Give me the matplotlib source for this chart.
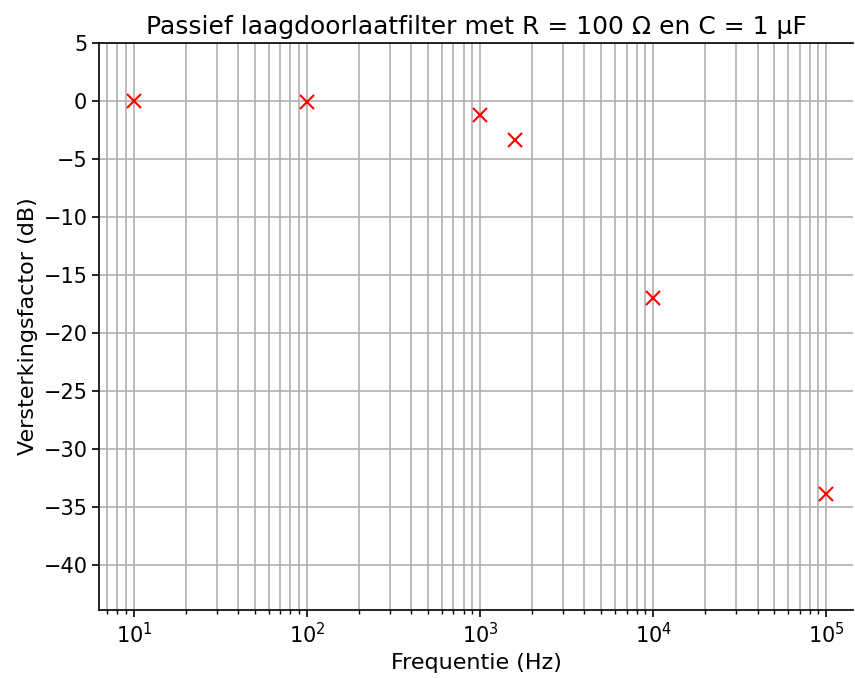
import matplotlib
matplotlib.use("Agg")
import matplotlib.pyplot as plt

# gemeten waarden
freq = [10, 100, 1000, 1592, 10000, 100000]
gain_db = [0.0, -0.15, -1.2, -3.35, -17.0, -33.9]

plt.rcParams['font.size'] = 15

fig, ax = plt.subplots(figsize=(8.55, 6.78), dpi=100)
ax.plot(freq, gain_db, 'x', color='red', markersize=10, markeredgewidth=1.5)
ax.set_xscale('log')
ax.set_xlim(6.28, 1.43e5)
ax.set_ylim(-43.9, 5)
ax.set_yticks(range(-40, 6, 5))
ax.grid(True, which='both', axis='x', color='#b0b0b0', linewidth=1.2)
ax.grid(True, which='major', axis='y', color='#b0b0b0', linewidth=1.2)
ax.spines['right'].set_visible(False)
for s in ax.spines.values():
    s.set_linewidth(1.2)
ax.tick_params(which='major', length=5, width=1.2)
ax.tick_params(which='minor', length=3, width=1.0)
ax.set_title('Passief laagdoorlaatfilter met R = 100 Ω en C = 1 μF', fontsize=18)
ax.set_xlabel('Frequentie (Hz)', fontsize=16)
ax.set_ylabel('Versterkingsfactor (dB)', fontsize=16)
fig.subplots_adjust(left=0.116, right=0.998, top=0.937, bottom=0.1)
fig.savefig('out.png')
